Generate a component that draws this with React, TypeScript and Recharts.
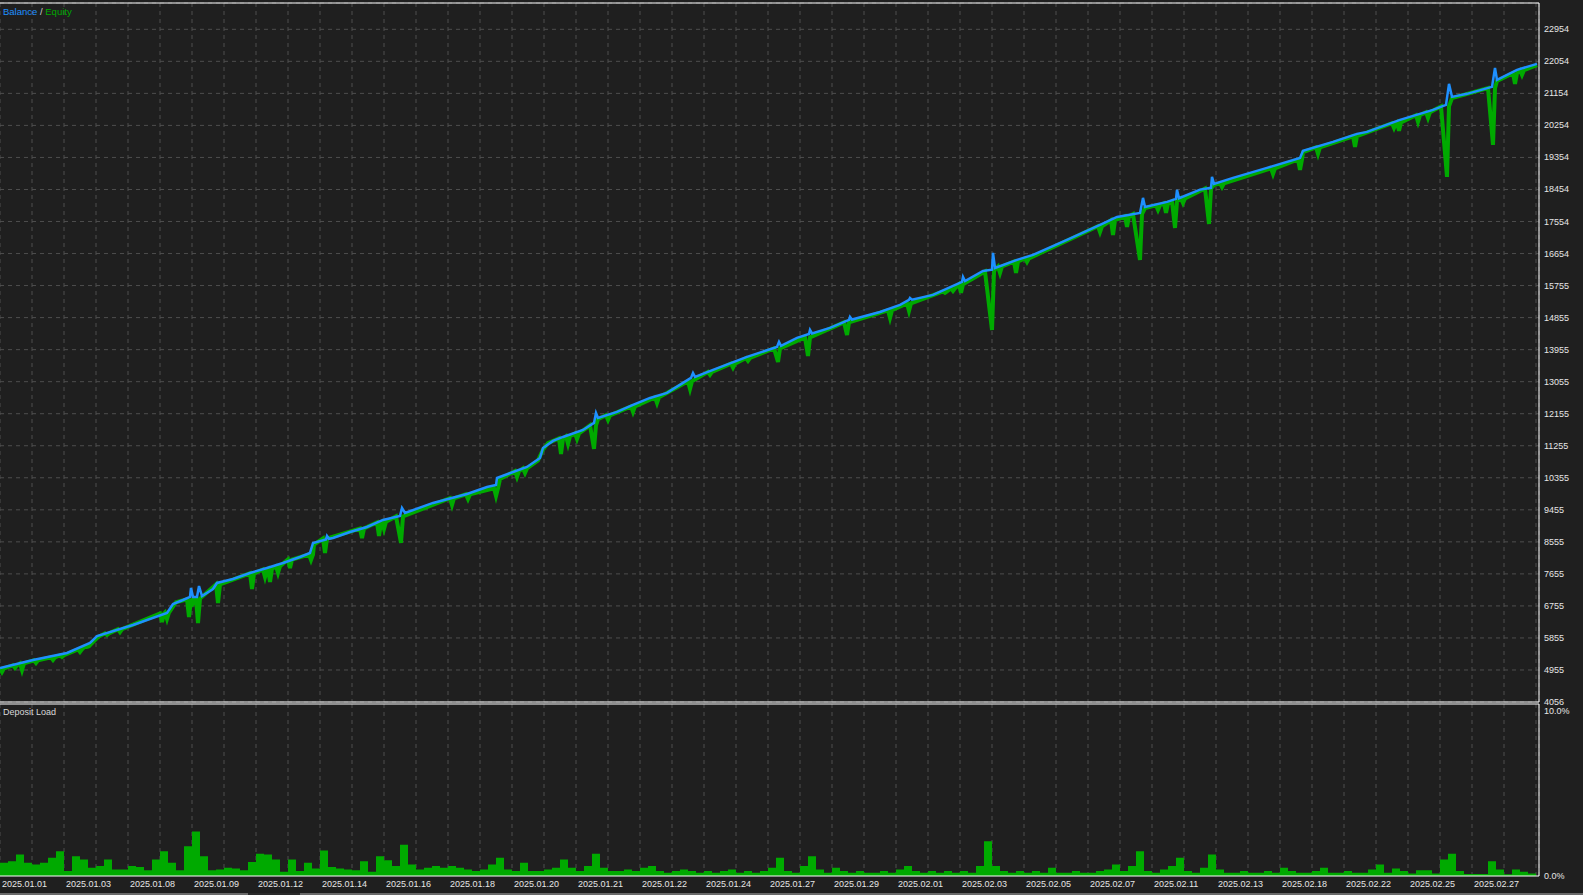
import React from 'react';
import {
  ComposedChart,
  Line,
  Area,
  XAxis,
  YAxis,
  CartesianGrid,
  ReferenceLine,
  Legend,
} from 'recharts';

// time axis is counted in tester bars, grid every 8 bars, a date label every 16
const DATE_LABELS = [
  '2025.01.01', '2025.01.03', '2025.01.08', '2025.01.09', '2025.01.12', '2025.01.14',
  '2025.01.16', '2025.01.18', '2025.01.20', '2025.01.21', '2025.01.22', '2025.01.24',
  '2025.01.27', '2025.01.29', '2025.02.01', '2025.02.03', '2025.02.05', '2025.02.07',
  '2025.02.11', '2025.02.13', '2025.02.18', '2025.02.22', '2025.02.25', '2025.02.27',
];

const BALANCE_TICKS = [
  4056, 4955, 5855, 6755, 7655, 8555, 9455, 10355, 11255, 12155, 13055,
  13955, 14855, 15755, 16654, 17554, 18454, 19354, 20254, 21154, 22054, 22954,
];

const LOAD_TICKS = [0, 10];

// [bar, balance]
const BALANCE: [number, number][] = [
  [0, 5011], [8.25, 5236], [16.75, 5433], [22.5, 5714], [24.25, 5910], [33.25, 6220],
  [41.75, 6557], [43.25, 6810], [45.75, 6922], [47.5, 7006], [47.75, 7259], [48.25, 7006],
  [49.25, 7006], [49.75, 7315], [50.5, 7034], [53.25, 7231], [54.25, 7400], [58.25, 7512],
  [62.5, 7681], [66.75, 7821], [70.75, 7962], [75, 8130], [77.5, 8243], [78.25, 8524],
  [81.5, 8620], [81.75, 8720], [82.25, 8640], [83.25, 8664], [87.5, 8833], [91.75, 8973],
  [95.75, 9170], [100, 9282], [100.5, 9507], [101.25, 9367], [108.25, 9648], [116.75, 9900],
  [121.75, 10097], [124, 10150], [124.25, 10350], [131.75, 10659], [135, 10912], [135.75, 11193],
  [138.25, 11390], [140.75, 11502], [145.75, 11699], [148.5, 11896], [149, 12177], [149.5, 12036],
  [154.25, 12205], [158.25, 12401], [162.5, 12598], [166.75, 12739], [170.75, 13020], [172.75, 13160],
  [173.25, 13300], [173.75, 13190], [178.25, 13385], [186.75, 13750], [194.25, 14031], [194.75, 14172],
  [195.25, 14060], [199.25, 14284], [202.25, 14396], [202.5, 14509], [203, 14410], [207.5, 14565],
  [212.25, 14790], [212.5, 14874], [213, 14800], [220, 15014], [225, 15211], [227.25, 15352],
  [227.5, 15408], [228, 15360], [233.25, 15492], [240.5, 15857], [240.75, 15998], [241.25, 15880],
  [245.75, 16166], [248, 16200], [248.25, 16672], [248.75, 16250], [254.25, 16475], [258.25, 16616],
  [266.75, 17037], [275, 17459], [279.25, 17683], [285, 17796], [285.75, 18218], [286.25, 17964],
  [291.75, 18105], [294, 18189], [294.25, 18442], [294.75, 18210], [300, 18450], [302.75, 18500],
  [303, 18807], [303.5, 18611], [308.25, 18780], [316.75, 19061], [325, 19342], [325.75, 19539],
  [333.25, 19790], [339.25, 20016], [341.75, 20072], [350, 20409], [358.25, 20690], [361.5, 20831],
  [362.25, 21421], [363, 21056], [366.75, 21141], [373, 21337], [373.75, 21871], [374.25, 21534],
  [379.25, 21815], [384.25, 21984],
];

// [bar, equity level, lowest equity, bars of slide before the low]
const EQUITY_DIPS: number[][] = [
  [0, 5000, 5000], [0.5, 5000, 4899], [3.75, 5085, 5011], [5.5, 5140, 4955], [9, 5225, 5152],
  [13.25, 5310, 5236], [15.5, 5370, 5321], [20, 5535, 5461], [21.75, 5620, 5602], [22.75, 5680, 5680],
  [24.5, 5880, 5880], [26.75, 5985, 5939], [30, 6100, 6023], [40.5, 6540, 6304], [41.75, 6570, 6388],
  [44, 6860, 6860], [47.25, 6940, 6444], [48.25, 6960, 6838], [49.5, 6960, 6276], [54.5, 7360, 6838],
  [63, 7670, 7231], [66.25, 7780, 7568], [67.5, 7800, 7428], [69.5, 7870, 7681], [72.5, 8060, 7821],
  [77.75, 8200, 8046], [78.5, 8480, 8480], [81.25, 8650, 8243], [90.5, 8930, 8664], [94.75, 9100, 8720],
  [96, 9120, 8917], [100.25, 9270, 8524, 1.25], [113, 9780, 9591], [117, 9890, 9760], [124, 10060, 9844],
  [125, 10320, 10320], [129.25, 10540, 10378], [131.25, 10620, 10490], [134.5, 10840, 10840],
  [135.75, 11150, 11150], [137, 11330, 11330], [140.25, 11460, 11024], [142, 11520, 11305],
  [144.25, 11600, 11446], [148.5, 11830, 11165, 1], [149.5, 12000, 12000], [152, 12110, 11980],
  [158.25, 12360, 12205], [164.25, 12615, 12457], [172.5, 13065, 12851], [177.5, 13330, 13250],
  [183.25, 13560, 13450], [187, 13720, 13640], [194.5, 13990, 13610, 1], [202, 14300, 13778, 0.75],
  [211.75, 14720, 14368, 0.75], [222.5, 15060, 14846], [227.25, 15255, 15043], [236.25, 15590, 15549],
  [238.25, 15680, 15605], [240.25, 15790, 15549], [248, 16150, 14509, 1.75], [248.75, 16210, 16210],
  [250, 16290, 16110], [254, 16430, 16110], [256.75, 16520, 16420], [275, 17420, 17262],
  [278.25, 17590, 17178], [281.75, 17700, 17403], [285, 17760, 16475, 1.75], [286.25, 17930, 17930],
  [289.5, 18010, 17880], [291.5, 18065, 17796], [293.75, 18120, 17374, 0.75], [295.75, 18205, 18077],
  [302.25, 18480, 17487, 1], [303.5, 18580, 18580], [305.5, 18630, 18526], [318.25, 19050, 18891],
  [325, 19300, 19004], [325.75, 19500, 19500], [329.5, 19640, 19454], [338.75, 19950, 19651],
  [348.5, 20315, 20185], [349.75, 20340, 20100], [354.5, 20540, 20353], [357, 20625, 20465],
  [361.75, 20790, 18807, 1.5], [363, 21020, 21020], [373.25, 21300, 19707, 1.25], [374.25, 21500, 21500],
  [378.75, 21720, 21421], [380.5, 21805, 21674], [384.25, 21950, 21950],
];

// deposit load in %, one value every 2 bars
const DEPOSIT_LOAD = [
  0.8, 0.9, 1.3, 0.8, 0.7, 0.8, 1.1, 1.5, 0.3, 1.2,
  1.0, 0.5, 0.6, 1.0, 0.4, 0.4, 0.6, 0.55, 0.35, 1.0,
  1.5, 0.8, 0.35, 1.8, 2.7, 1.2, 0.35, 0.4, 0.5, 0.45,
  0.35, 0.85, 1.35, 1.3, 1.0, 0.25, 1.0, 0.3, 0.8, 0.45,
  1.55, 0.55, 0.45, 0.4, 0.35, 0.9, 0.25, 1.2, 0.95,
  0.6, 1.9, 0.7, 0.4, 0.5, 0.6, 0.5, 0.6, 0.5, 0.4,
  0.3, 0.4, 0.7, 1.1, 0.4, 0.3, 0.8, 0.3, 0.3, 0.4,
  0.5, 1.0, 0.5, 0.3, 0.6, 1.35, 0.5, 0.3, 0.3, 0.4,
  0.3, 0.5, 0.6, 0.3, 0.2, 0.3, 0.4, 0.3, 0.2, 0.3,
  0.2, 0.3, 0.4, 0.2, 0.3, 0.2, 0.3, 0.5, 1.1, 0.3,
  0.2, 0.6, 1.2, 0.4, 0.2, 0.5, 0.3, 0.2, 0.3, 0.2,
  0.2, 0.3, 0.2, 0.4, 0.6, 0.3, 0.2, 0.3, 0.2, 0.3,
  0.2, 0.3, 0.2, 0.6, 2.1, 0.6, 0.3, 0.2, 0.3, 0.2,
  0.3, 0.2, 0.5, 0.2, 0.2, 0.3, 0.2, 0.2, 0.3, 0.4,
  0.7, 0.3, 0.6, 1.5, 0.3, 0.2, 0.4, 0.6, 1.1, 0.3,
  0.2, 0.5, 1.3, 0.4, 0.2, 0.2, 0.3, 0.2, 0.2, 0.3,
  0.2, 0.5, 0.3, 0.2, 0.2, 0.3, 0.5, 0.2, 0.2, 0.3,
  0.2, 0.2, 0.4, 0.7, 0.2, 0.45, 0.3, 0.15, 0.35, 0.35,
  0.15, 1.0, 1.35, 0.3, 0.12, 0.12, 0.12, 0.9, 0.4, 0.1,
  0.4, 0.25, 0.15, 0.15,
];

const X_MAX = 384.75;
const BAL_MIN = 4056;
const BAL_MAX = 23693;
const LOAD_MAX = 10.42;

const BG = '#1f1f1f';
const GRID = '#4e4e4e';
const BLUE = '#1e90ff';
const GREEN = '#00aa00';
const TEXT = '#e6e6e6';
const FONT = '"Liberation Sans", Arial, sans-serif';

const X_TICKS = Array.from({ length: 49 }, (_, i) => i * 8);

const balanceData = BALANCE.map(([t, v]) => ({ t, v }));

const equityData: { t: number; v: number }[] = [];
EQUITY_DIPS.forEach(([t, level, low, lead = 0.5]) => {
  if (low === level) {
    equityData.push({ t, v: level });
    return;
  }
  equityData.push({ t: t - lead, v: level }, { t, v: low }, { t: t + 0.5, v: level });
});

const loadData = DEPOSIT_LOAD.map((v, i) => ({ t: i * 2, v }));

const RightTick = ({ x, y, payload, suffix }: any) => (
  <text x={x} y={y} fill={TEXT} fontSize={9} fontFamily={FONT} dominantBaseline="central">
    {suffix ? `${payload.value.toFixed(1)}%` : payload.value}
  </text>
);

const DateTick = ({ x, y, payload }: any) => {
  if (payload.value % 16 !== 0) return <g />;
  return (
    <text x={x + 2} y={y} fill={TEXT} fontSize={9} fontFamily={FONT} dominantBaseline="central">
      {DATE_LABELS[payload.value / 16]}
    </text>
  );
};

const TopLegend = () => (
  <div style={{ fontFamily: FONT, fontSize: 9.5, whiteSpace: 'nowrap' }}>
    <span style={{ color: BLUE }}>Balance</span>
    <span style={{ color: '#d0d0d0' }}> / </span>
    <span style={{ color: GREEN }}>Equity</span>
  </div>
);

const LoadLegend = () => (
  <div style={{ fontFamily: FONT, fontSize: 9, color: '#d8d8d8', whiteSpace: 'nowrap' }}>Deposit Load</div>
);

export default function App() {
  return (
    <div
      style={{
        position: 'absolute',
        left: 0,
        top: 0,
        width: 1583,
        height: 895,
        background: BG,
        overflow: 'hidden',
      }}
    >
      <style>{'.recharts-surface { overflow: visible; }'}</style>

      <div style={{ position: 'absolute', left: 0, top: 0 }}>
        <ComposedChart width={1583} height={703} margin={{ top: 3, right: 0, bottom: 1, left: 0 }}>
          <CartesianGrid stroke={GRID} strokeDasharray="4 4" />
          <XAxis type="number" dataKey="t" domain={[0, X_MAX]} ticks={X_TICKS} hide allowDataOverflow />
          <YAxis
            orientation="right"
            width={44}
            domain={[BAL_MIN, BAL_MAX]}
            ticks={BALANCE_TICKS}
            interval={0}
            tickSize={0}
            tickMargin={5}
            tickLine={false}
            axisLine={{ stroke: '#ffffff' }}
            tick={<RightTick />}
            allowDataOverflow
          />
          <ReferenceLine y={BAL_MAX} stroke="#ffffff" />
          <ReferenceLine y={BAL_MIN} stroke="#ffffff" />
          <Legend
            layout="horizontal"
            verticalAlign="middle"
            align="center"
            content={<TopLegend />}
            wrapperStyle={{ top: 6, left: 3, width: 'auto', height: 'auto' }}
          />
          <Line
            data={equityData}
            dataKey="v"
            name="Equity"
            type="linear"
            stroke={GREEN}
            strokeWidth={4}
            dot={false}
            activeDot={false}
            isAnimationActive={false}
          />
          <Line
            data={balanceData}
            dataKey="v"
            name="Balance"
            type="linear"
            stroke={BLUE}
            strokeWidth={2.5}
            dot={false}
            activeDot={false}
            isAnimationActive={false}
          />
        </ComposedChart>
      </div>

      <div style={{ position: 'absolute', left: 0, top: 703 }}>
        <ComposedChart width={1583} height={192} data={loadData} margin={{ top: 1, right: 0, bottom: 0, left: 0 }}>
          <CartesianGrid stroke={GRID} strokeDasharray="4 4" horizontal={false} />
          <XAxis
            type="number"
            dataKey="t"
            domain={[0, X_MAX]}
            ticks={X_TICKS}
            interval={0}
            height={19}
            tickSize={0}
            tickMargin={8}
            tickLine={false}
            axisLine={{ stroke: '#ffffff' }}
            tick={<DateTick />}
            allowDataOverflow
          />
          <YAxis
            orientation="right"
            width={44}
            domain={[0, LOAD_MAX]}
            ticks={LOAD_TICKS}
            interval={0}
            tickSize={0}
            tickMargin={5}
            tickLine={false}
            axisLine={{ stroke: '#ffffff' }}
            tick={<RightTick suffix />}
            allowDataOverflow
          />
          <ReferenceLine y={LOAD_MAX} stroke="#ffffff" />
          <Legend
            layout="horizontal"
            verticalAlign="middle"
            align="center"
            content={<LoadLegend />}
            wrapperStyle={{ top: 4, left: 3, width: 'auto', height: 'auto' }}
          />
          <Area
            dataKey="v"
            name="Deposit Load"
            type="stepAfter"
            stroke="none"
            fill={GREEN}
            fillOpacity={1}
            isAnimationActive={false}
          />
        </ComposedChart>
      </div>

      <div style={{ position: 'absolute', left: 0, top: 893, width: 1583, height: 2, background: '#6a6a6a' }} />
      <div style={{ position: 'absolute', left: 248, top: 893, width: 52, height: 2, background: '#2a2a2a' }} />
    </div>
  );
}
